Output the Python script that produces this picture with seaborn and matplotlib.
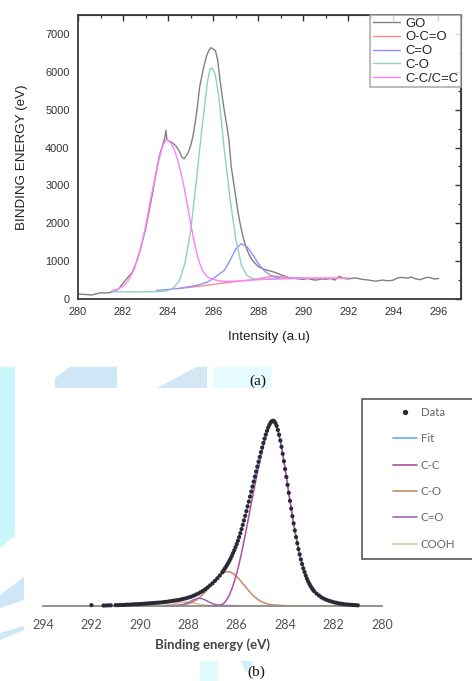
import matplotlib
matplotlib.use("Agg")
import matplotlib.pyplot as plt
import seaborn as sns
import pandas as pd
from matplotlib.patches import Polygon, Rectangle
from matplotlib.lines import Line2D

# ---------------- panel (a) data ----------------
a_go_e = [280.0, 280.2, 280.4, 280.6, 280.8, 281.0, 281.2, 281.4, 281.6, 281.8, 282.0, 282.2, 282.4, 282.6,
          282.8, 283.0, 283.2, 283.4, 283.6, 283.75, 283.85, 283.9, 283.95, 284.05, 284.2, 284.35, 284.5,
          284.6, 284.7, 284.8, 284.9, 285.0, 285.1, 285.2, 285.3, 285.4, 285.5, 285.6, 285.7, 285.8, 285.9,
          286.0, 286.1, 286.2, 286.3, 286.4, 286.5, 286.6, 286.7, 286.8, 286.9, 287.0, 287.1, 287.2, 287.3,
          287.4, 287.5, 287.6, 287.7, 287.8, 287.9, 288.0, 288.2, 288.4, 288.6, 288.8, 289.0, 289.2, 289.4,
          289.6, 289.8, 290.0, 290.2, 290.4, 290.6, 290.8, 291.0, 291.2, 291.4, 291.6, 291.8, 292.0, 292.3,
          292.6, 292.9, 293.2, 293.5, 293.8, 294.0, 294.2, 294.4, 294.6, 294.8, 295.0, 295.2, 295.4, 295.6,
          295.8, 296.0]
a_go_i = [130, 125, 115, 105, 135, 165, 160, 170, 200, 260, 420, 560, 700, 980,
          1380, 1850, 2450, 3100, 3750, 4050, 4250, 4450, 4200, 4170, 4120, 4040, 3900,
          3760, 3700, 3780, 3880, 4050, 4290, 4650, 5080, 5600, 5900, 6180, 6400, 6560, 6640,
          6600, 6560, 6300, 5800, 5350, 4950, 4600, 4200, 3500, 3100, 2700, 2300, 1980, 1700,
          1480, 1300, 1170, 1060, 980, 920, 860, 800, 760, 730, 690, 640, 600, 540,
          550, 530, 520, 540, 510, 500, 530, 520, 540, 500, 600, 540, 530, 560,
          520, 500, 470, 500, 480, 500, 560, 570, 550, 580, 530, 510, 560, 570,
          530, 540]

a_ococ_e = [284.5, 285.0, 285.5, 286.0, 286.5, 287.0, 287.5, 288.0, 288.4, 288.75, 289.1, 289.5, 290.0, 291.0, 292.0]
a_ococ_i = [280, 310, 345, 385, 425, 460, 495, 535, 580, 600, 590, 560, 550, 550, 550]

a_cdo_e = [283.5, 284.0, 284.5, 285.0, 285.25, 285.5, 285.75, 286.0, 286.25, 286.5, 286.75, 287.0, 287.25,
           287.5, 287.75, 288.0, 288.25, 288.5, 288.75, 289.0, 289.5, 290.0]
a_cdo_i = [228, 250, 280, 330, 360, 400, 450, 540, 650, 760, 1020, 1320, 1460,
           1380, 1180, 940, 760, 640, 580, 550, 545, 550]

a_co_e = [281.5, 282.0, 282.5, 283.0, 283.5, 283.75, 284.0, 284.25, 284.5, 284.75, 285.0, 285.25, 285.5,
          285.75, 285.85, 285.92, 286.0, 286.1, 286.25, 286.5, 286.75, 287.0, 287.25, 287.5, 287.75, 288.0,
          288.5, 289.0, 289.5, 290.0]
a_co_i = [190, 190, 190, 190, 195, 205, 225, 300, 480, 950, 1800, 3100, 4500,
          5750, 6050, 6100, 6060, 5900, 5350, 3900, 2650, 1600, 900, 620, 540, 520,
          520, 530, 540, 545]

a_cc_e = [281.5, 281.75, 282.0, 282.25, 282.5, 282.75, 283.0, 283.25, 283.5, 283.75, 283.92, 284.1, 284.25,
          284.4, 284.5, 284.65, 284.75, 284.87, 285.0, 285.12, 285.25, 285.4, 285.55, 285.75, 286.0, 286.25,
          286.5, 287.0, 287.5, 288.0, 288.5, 289.0, 290.0, 291.0, 292.0]
a_cc_i = [220, 255, 335, 500, 800, 1270, 1910, 2720, 3450, 4040, 4210, 4140, 3980,
          3720, 3500, 3120, 2820, 2430, 2000, 1620, 1260, 940, 720, 580, 520, 480,
          465, 470, 490, 510, 530, 540, 550, 550, 550]

a_labels = ["GO", "O-C=O", "C=O", "C-O", "C-C/C=C"]
a_xticks = [280, 282, 284, 286, 288, 290, 292, 294, 296]
a_yticks = [0, 1000, 2000, 3000, 4000, 5000, 6000, 7000]

# ---------------- panel (b) data ----------------
b_data_e = [281.0, 281.1, 281.2, 281.3, 281.4, 281.5, 281.6, 281.7, 281.8, 281.9, 282.0, 282.1, 282.2, 282.3,
            282.4, 282.5, 282.6, 282.7, 282.8,
            282.85, 282.9, 282.95, 283.0, 283.05, 283.1, 283.15, 283.2, 283.25, 283.3, 283.35, 283.4, 283.45,
            283.5, 283.55, 283.6, 283.65, 283.7, 283.75, 283.8, 283.85, 283.9, 283.95, 284.0, 284.05, 284.1,
            284.15, 284.2, 284.25, 284.3, 284.35, 284.4, 284.45, 284.5,
            284.55, 284.6, 284.65, 284.7, 284.75, 284.8, 284.85, 284.9, 284.95, 285.0, 285.05, 285.1, 285.15,
            285.2, 285.25, 285.3, 285.35, 285.4, 285.45, 285.5, 285.55, 285.6, 285.65, 285.7, 285.75, 285.8,
            285.85, 285.9, 285.95, 286.0, 286.05, 286.1, 286.15, 286.2, 286.25, 286.3, 286.35, 286.4, 286.45,
            286.5, 286.55, 286.6,
            286.7, 286.8, 286.9, 287.0, 287.1, 287.2, 287.3, 287.4, 287.5, 287.6, 287.7, 287.8, 287.9, 288.0,
            288.1, 288.2, 288.3, 288.4, 288.5, 288.6, 288.7, 288.8, 288.9, 289.0, 289.1, 289.2, 289.3, 289.4,
            289.5, 289.6, 289.7, 289.8, 289.9, 290.0, 290.1, 290.2, 290.3, 290.4, 290.5, 290.6, 290.7, 290.8,
            290.9, 291.0,
            291.2, 291.3, 291.4, 291.5, 292.0]
b_data_i = [0.002, 0.003, 0.004, 0.005, 0.006, 0.007, 0.009, 0.011, 0.013, 0.016, 0.019, 0.023, 0.027, 0.032,
            0.038, 0.045, 0.055, 0.065, 0.078,
            0.086, 0.096, 0.106, 0.118, 0.131, 0.146, 0.163, 0.182, 0.202, 0.225, 0.250, 0.277, 0.306,
            0.338, 0.371, 0.407, 0.445, 0.484, 0.525, 0.567, 0.610, 0.653, 0.696, 0.739, 0.781, 0.821,
            0.859, 0.893, 0.924, 0.950, 0.972, 0.987, 0.997, 1.000,
            0.997, 0.990, 0.978, 0.963, 0.945, 0.925, 0.903, 0.880, 0.855, 0.830, 0.804, 0.778, 0.752,
            0.725, 0.698, 0.671, 0.644, 0.617, 0.590, 0.563, 0.537, 0.511, 0.486, 0.461, 0.437, 0.414,
            0.392, 0.371, 0.351, 0.333, 0.316, 0.300, 0.285, 0.270, 0.256, 0.243, 0.231, 0.220, 0.209,
            0.199, 0.189, 0.180,
            0.163, 0.148, 0.134, 0.121, 0.110, 0.099, 0.089, 0.080, 0.072, 0.065, 0.059, 0.053, 0.048, 0.044,
            0.040, 0.037, 0.034, 0.031, 0.029, 0.027, 0.025, 0.023, 0.021, 0.020, 0.018, 0.017, 0.016, 0.015,
            0.014, 0.013, 0.012, 0.011, 0.010, 0.009, 0.008, 0.008, 0.007, 0.006, 0.006, 0.005, 0.004, 0.004,
            0.003, 0.003,
            0.002, 0.002, 0.001, 0.001, 0.003]

b_fit_e = [281.0, 281.2, 281.4, 281.6, 281.8, 282.0, 282.2, 282.4, 282.6, 282.8, 283.0, 283.2, 283.4, 283.6,
           283.8, 284.0, 284.2, 284.4, 284.5, 284.6, 284.8, 285.0, 285.2, 285.4, 285.6, 285.8, 286.0, 286.2,
           286.4, 286.6, 286.8, 287.0, 287.2, 287.4, 287.6, 287.8, 288.0, 288.2, 288.4, 288.6, 288.8, 289.0,
           289.4, 289.8, 290.2, 290.6, 291.0]
b_fit_i = [0.002, 0.004, 0.006, 0.009, 0.013, 0.019, 0.027, 0.038, 0.055, 0.078, 0.118, 0.182, 0.277, 0.407,
           0.567, 0.739, 0.893, 0.987, 1.000, 0.990, 0.925, 0.830, 0.725, 0.617, 0.511, 0.414, 0.333, 0.270,
           0.220, 0.180, 0.148, 0.121, 0.099, 0.080, 0.065, 0.053, 0.044, 0.037, 0.031, 0.027, 0.023, 0.020,
           0.015, 0.011, 0.008, 0.005, 0.003]

b_cc_e = [281.0, 281.1, 281.2, 281.3, 281.4, 281.5, 281.6, 281.7, 281.8, 281.9, 282.0, 282.1, 282.2, 282.3,
          282.4, 282.5, 282.6, 282.7, 282.8, 282.9, 283.0, 283.1, 283.2, 283.3, 283.4, 283.5, 283.6, 283.7,
          283.8, 283.9, 284.0, 284.1, 284.2, 284.3, 284.4, 284.5, 284.6, 284.7, 284.8, 284.9, 285.0, 285.1,
          285.2, 285.3, 285.4, 285.5, 285.6, 285.7, 285.8, 285.9, 286.0, 286.1, 286.2, 286.3, 286.4, 286.5,
          286.6, 286.7, 286.8, 286.9, 287.0, 287.1, 287.2]
b_cc_i = [0.002, 0.003, 0.004, 0.005, 0.006, 0.007, 0.009, 0.011, 0.013, 0.016, 0.019, 0.023, 0.027, 0.032,
          0.038, 0.045, 0.055, 0.065, 0.078, 0.096, 0.118, 0.146, 0.182, 0.225, 0.277, 0.338, 0.407, 0.484,
          0.567, 0.653, 0.739, 0.821, 0.893, 0.950, 0.987, 0.996, 0.984, 0.954, 0.913, 0.863, 0.807, 0.747,
          0.685, 0.619, 0.552, 0.483, 0.415, 0.349, 0.286, 0.227, 0.175, 0.130, 0.091, 0.059, 0.035, 0.017,
          0.007, 0.003, 0.001, 0.0, 0.0, 0.0, 0.0]

b_co_e = [284.0, 284.5, 284.7, 284.9, 285.1, 285.3, 285.5, 285.7, 285.9, 286.1, 286.3, 286.5, 286.7, 286.9,
          287.1, 287.3, 287.5, 287.7, 287.9, 288.1, 288.3, 288.5, 288.7]
b_co_i = [0.0, 0.004, 0.009, 0.017, 0.031, 0.052, 0.080, 0.112, 0.144, 0.170, 0.184, 0.182, 0.166, 0.138,
          0.106, 0.074, 0.048, 0.028, 0.015, 0.008, 0.003, 0.001, 0.0]

b_cdo_e = [286.0, 286.6, 286.8, 286.9, 287.0, 287.1, 287.2, 287.3, 287.4, 287.5, 287.6, 287.7, 287.8, 287.9,
           288.0, 288.1, 288.2, 288.3, 288.4, 288.6, 289.0]
b_cdo_i = [0.0, 0.001, 0.004, 0.007, 0.012, 0.017, 0.024, 0.031, 0.036, 0.040, 0.040, 0.036, 0.031, 0.024,
           0.017, 0.012, 0.007, 0.004, 0.002, 0.001, 0.0]

b_cooh_e = [281.2, 287.0, 287.3, 287.5, 287.7, 287.9, 288.1, 288.3, 288.5, 288.7, 288.9, 289.2, 291.0]
b_cooh_i = [0.0, 0.0, 0.003, 0.0065, 0.012, 0.018, 0.020, 0.018, 0.012, 0.0065, 0.003, 0.0, 0.0]

b_labels = ["Data", "Fit", "C-C", "C-O", "C=O", "COOH"]
b_xticks = [294, 292, 290, 288, 286, 284, 282, 280]

# ---------------- figure ----------------
sns.set_style("white")
plt.rcParams["font.family"] = ["Liberation Sans", "DejaVu Sans"]

W, H = 472, 681
fig = plt.figure(figsize=(W / 100, H / 100), dpi=100)
fig.patch.set_facecolor("white")


def fx(x):
    return x / W


def fy(y):
    return 1 - y / H


# watermark-like background shapes (figure pixel coordinates)
shapes = [
    ([(0, 366.7), (15, 366.7), (15, 536), (0, 548)], "#c8f8fc"),
    ([(0, 595), (24, 577), (24, 600), (0, 608)], "#cde7f8"),
    ([(0, 633), (24, 626), (24, 630), (0, 640)], "#cde7f8"),
    ([(55, 388), (55, 378), (70, 366.7), (117, 366.7), (117, 388)], "#cfe6f7"),
    ([(157, 388), (197, 366.7), (207, 366.7), (207, 388)], "#d3e7f5"),
    ([(213, 366.7), (272, 366.7), (272, 388), (213, 388)], "#e6fbfd"),
    ([(200, 661), (218, 661), (218, 681), (200, 681)], "#e0f9fb"),
    ([(241, 661), (253, 661), (246, 673)], "#cdeff9"),
]
for pts, col in shapes:
    fig.patches.append(Polygon([(fx(x), fy(y)) for x, y in pts], closed=True,
                               transform=fig.transFigure, facecolor=col,
                               edgecolor="none", zorder=0))

# ---------------- panel (a) ----------------
ax1 = fig.add_axes([fx(78), fy(299), fx(461) - fx(78), fy(15) - fy(299)])
ax1.set_facecolor("white")
a_colors = ["#808080", "#ff8c8c", "#9090ff", "#8fd0c6", "#ff80ff"]
a_series = [(a_go_e, a_go_i), (a_ococ_e, a_ococ_i), (a_cdo_e, a_cdo_i), (a_co_e, a_co_i), (a_cc_e, a_cc_i)]
for (xe, yi), col, lab in zip(a_series, a_colors, a_labels):
    df = pd.DataFrame({"E": xe, "I": yi})
    sns.lineplot(data=df, x="E", y="I", ax=ax1, color=col, lw=1.0, sort=False,
                 estimator=None, legend=False)

ax1.set_xlim(280, 297)
ax1.set_ylim(0, 7500)
ax1.set_xticks(a_xticks)
ax1.set_xticks([x + 1 for x in a_xticks], minor=True)
ax1.set_yticks(a_yticks)
ax1.set_yticks([y + 500 for y in a_yticks], minor=True)
ax1.tick_params(axis="both", which="major", direction="out", length=4, width=1.0,
                colors="#333333", labelsize=7.9, pad=2)
ax1.tick_params(axis="both", which="minor", direction="out", length=2.5, width=0.9,
                colors="#333333")
for s in ax1.spines.values():
    s.set_color("#3a3a3a")
    s.set_linewidth(1.3)

secx = ax1.secondary_xaxis("top")
secx.set_xticks(a_xticks)
secx.set_xticks([x + 1 for x in a_xticks], minor=True)
secx.tick_params(which="major", direction="in", length=4, width=1.0, labeltop=False, colors="#333333")
secx.tick_params(which="minor", direction="in", length=2.5, width=0.9, colors="#333333")
secy = ax1.secondary_yaxis("right")
secy.set_yticks(a_yticks)
secy.set_yticks([y + 500 for y in a_yticks], minor=True)
secy.tick_params(which="major", direction="in", length=4, width=1.0, labelright=False, colors="#333333")
secy.tick_params(which="minor", direction="in", length=2.5, width=0.9, colors="#333333")

ax1.set_xlabel("Intensity (a.u)", fontsize=9.7, color="#222222", labelpad=9.5)
ax1.set_ylabel("BINDING ENERGY (eV)", fontsize=9.6, color="#222222", labelpad=12)

a_handles = [Line2D([], [], color=c, lw=1.0) for c in a_colors]
leg1 = ax1.legend(a_handles, a_labels, loc="upper right", bbox_to_anchor=(1, 1),
                  borderaxespad=0, frameon=True, fancybox=False, edgecolor="#9a9a9a",
                  fontsize=9.4, handlelength=2.1, handletextpad=0.4, labelspacing=0.12,
                  borderpad=0.2)
leg1.get_frame().set_linewidth(1.2)
for t in leg1.get_texts():
    t.set_color("#222222")

fig.text(fx(258), fy(381), "(a)", ha="center", va="center", fontsize=11,
         family=["Liberation Serif", "DejaVu Serif"], color="#111111")

# ---------------- panel (b) ----------------
ax2 = fig.add_axes([fx(43), fy(605.7), fx(382) - fx(43), fy(395) - fy(605.7)])
ax2.patch.set_alpha(0)
b_colors = {"Fit": "#62b6d8", "C-C": "#b24f9c", "C-O": "#c4896a", "C=O": "#9b68b5", "COOH": "#d9c68c"}

sns.lineplot(x=b_cooh_e, y=b_cooh_i, ax=ax2, color=b_colors["COOH"], lw=1.1, sort=False,
             estimator=None, legend=False)
sns.lineplot(x=b_fit_e, y=b_fit_i, ax=ax2, color=b_colors["Fit"], lw=1.1, sort=False,
             estimator=None, legend=False)
sns.lineplot(x=b_co_e, y=b_co_i, ax=ax2, color=b_colors["C-O"], lw=1.1, sort=False,
             estimator=None, legend=False)
sns.lineplot(x=b_cdo_e, y=b_cdo_i, ax=ax2, color=b_colors["C=O"], lw=1.1, sort=False,
             estimator=None, legend=False)
sns.lineplot(x=b_cc_e, y=b_cc_i, ax=ax2, color=b_colors["C-C"], lw=1.1, sort=False,
             estimator=None, legend=False)
sns.scatterplot(x=b_data_e, y=b_data_i, ax=ax2, s=9, color="#2a2a36", edgecolor="none",
                zorder=5, legend=False, clip_on=False)
for ln in ax2.lines:
    ln.set_clip_on(False)

ax2.set_xlim(294, 280)
ax2.set_ylim(0, 1.139)
ax2.set_xticks(b_xticks)
ax2.set_yticks([])
for side in ["left", "right", "top"]:
    ax2.spines[side].set_visible(False)
ax2.spines["bottom"].set_color("#8c8c8c")
ax2.spines["bottom"].set_linewidth(1.3)
ax2.tick_params(axis="x", direction="out", length=3.5, width=1.0, colors="#8c8c8c",
                labelcolor="#555555", labelsize=9, pad=6)
for t in ax2.get_xticklabels():
    t.set_family(["Lato", "DejaVu Sans"])
ax2.set_xlabel("Binding energy (eV)", fontsize=9.5, fontweight="bold", color="#454545",
               family=["Lato", "DejaVu Sans"], labelpad=5)

# legend for (b)
fig.patches.append(Rectangle((fx(362), fy(559)), fx(480) - fx(362), fy(399) - fy(559),
                             transform=fig.transFigure, facecolor="white",
                             edgecolor="#4a4a4a", lw=1.1, zorder=1))
b_handles = [Line2D([], [], ls="none", marker="o", ms=2.8, color="#2a2a36")]
b_handles += [Line2D([], [], color=b_colors[k], lw=1.2) for k in b_labels[1:]]
leg2 = fig.legend(b_handles, b_labels, loc="upper left",
                  bbox_to_anchor=(fx(393), fy(407)), borderaxespad=0, borderpad=0,
                  frameon=False, prop={"family": ["Lato", "DejaVu Sans"], "size": 8.3},
                  handlelength=2.1, handletextpad=0.3, labelspacing=1.33)
for t in leg2.get_texts():
    t.set_color("#666666")

fig.text(fx(256), fy(672), "(b)", ha="center", va="center", fontsize=11,
         family=["Liberation Serif", "DejaVu Serif"], color="#111111")

fig.savefig("out.png", dpi=100)
